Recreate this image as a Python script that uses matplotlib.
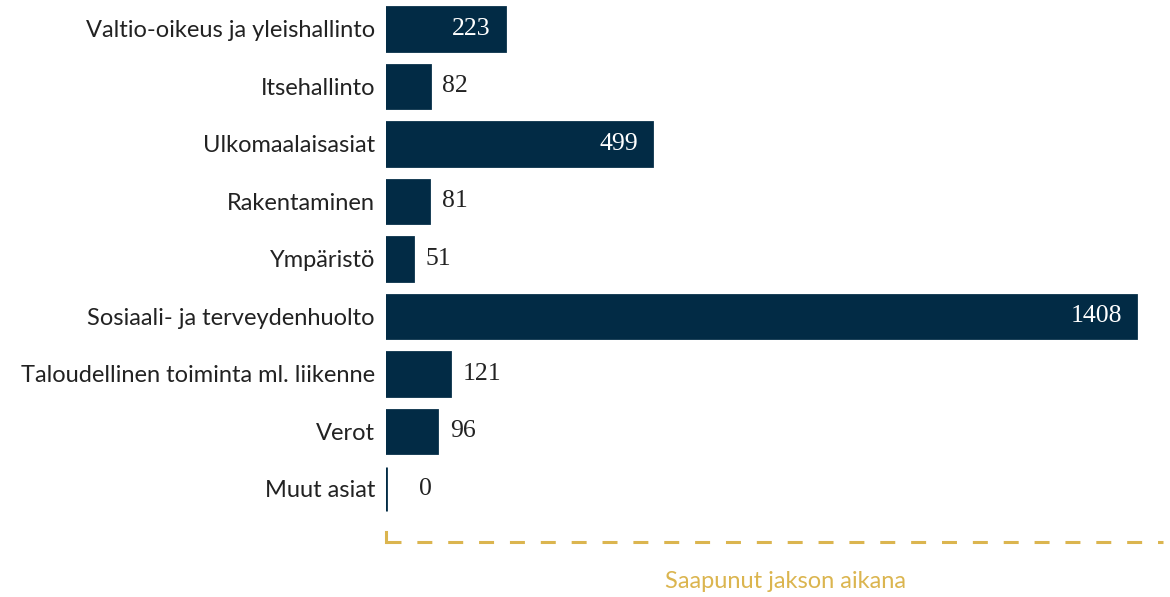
import matplotlib
matplotlib.use("Agg")
import matplotlib.pyplot as plt
from matplotlib.lines import Line2D

categories = [
    "Valtio-oikeus ja yleishallinto",
    "Itsehallinto",
    "Ulkomaalaisasiat",
    "Rakentaminen",
    "Ympäristö",
    "Sosiaali- ja terveydenhuolto",
    "Taloudellinen toiminta ml. liikenne",
    "Verot",
    "Muut asiat",
]
values = [223, 82, 499, 81, 51, 1408, 121, 96, 0]
series_name = "Saapunut jakson aikana"

navy = "#022b45"
gold = "#dbb54f"

fig = plt.figure(figsize=(11.7, 5.97), dpi=100)
W, H = 1170, 597

# axes placed in pixel terms
ax_left, ax_right, ax_top, ax_bottom = 386, 1163, 0, 520
ax = fig.add_axes([ax_left / W, 1 - ax_bottom / H,
                   (ax_right - ax_left) / W, (ax_bottom - ax_top) / H])

ypos = list(range(len(categories)))
ax.barh(ypos, values, height=0.76, color=navy, edgecolor=navy, linewidth=2)
ax.set_xlim(0, 1458)
ax.set_ylim(8.54, -0.504)

ax.set_yticks(ypos)
ax.set_yticklabels(categories, fontsize=17, family="Lato", color="#222222")
ax.tick_params(axis="y", length=0, pad=8)
ax.set_xticks([])
for s in ax.spines.values():
    s.set_visible(False)

for y, v in zip(ypos, values):
    if v > 200:
        ax.annotate(str(v), (v, y), xytext=(-10, 0), textcoords="offset points",
                    ha="right", va="center", color="white", fontsize=18.5,
                    family="Liberation Serif")
    else:
        off = 9 if v > 0 else 24
        ax.annotate(str(v), (v, y), xytext=(off, 0), textcoords="offset points",
                    ha="left", va="center", color="#222222", fontsize=18.5,
                    family="Liberation Serif")

# legend-like bracket below the bars
ly = 1 - 542 / H
fig.add_artist(Line2D([ax_left / W, ax_left / W], [1 - 532 / H, ly],
                      color=gold, lw=2.2, transform=fig.transFigure))
fig.add_artist(Line2D([ax_left / W, ax_right / W], [ly, ly], color=gold, lw=2.2,
                      dashes=(4.9, 5.2), transform=fig.transFigure))
fig.text(786 / W, 1 - 581 / H, series_name, color=gold, fontsize=17,
         family="Lato", ha="center", va="center")

fig.savefig("out.png", dpi=100)
